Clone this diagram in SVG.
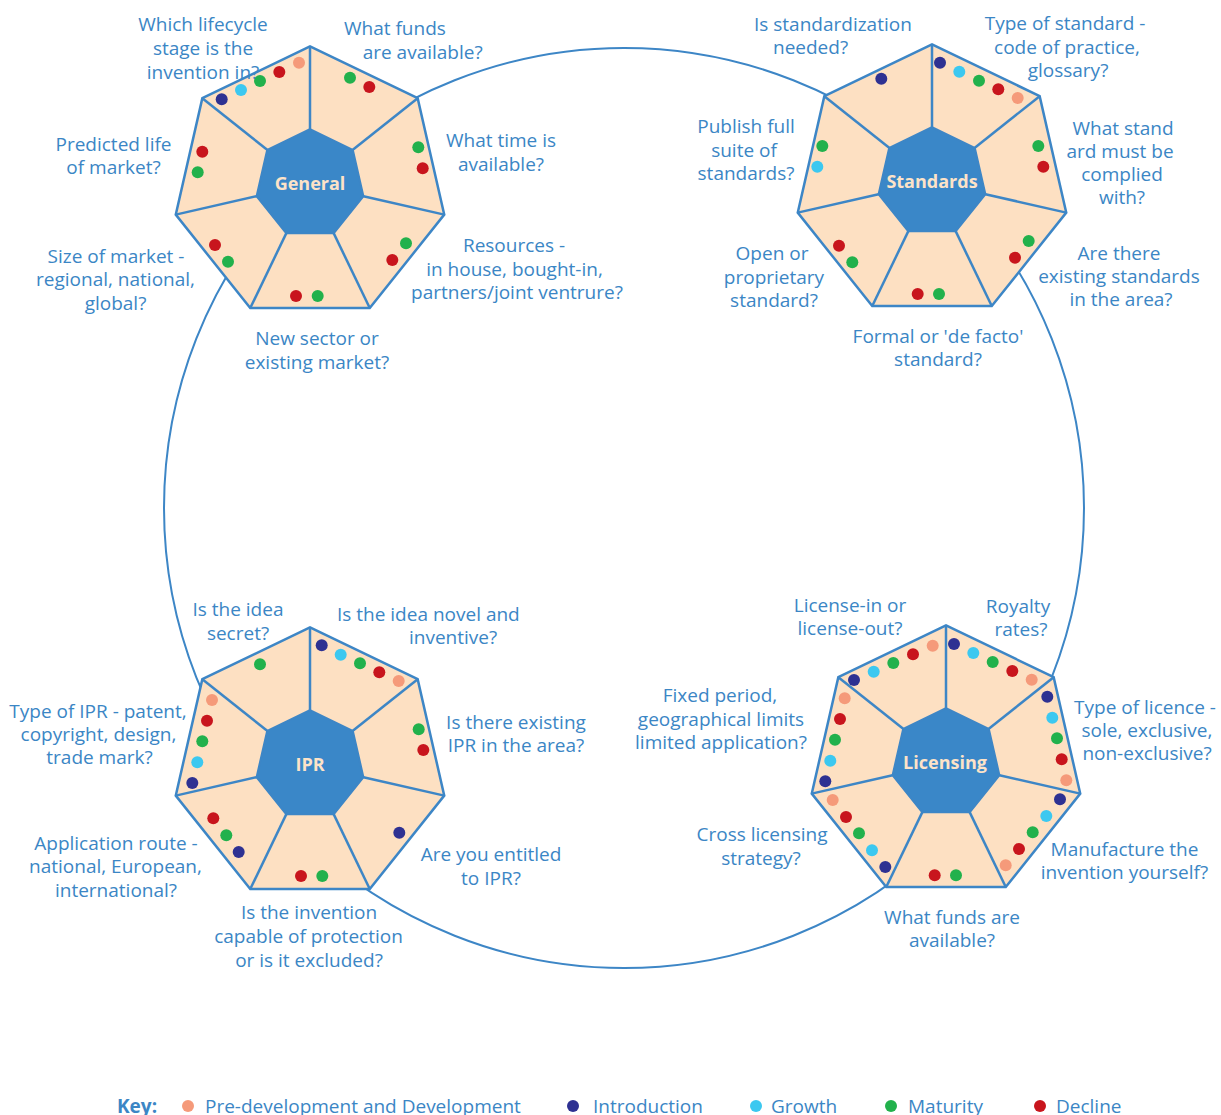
<svg xmlns="http://www.w3.org/2000/svg" xmlns:xlink="http://www.w3.org/1999/xlink" width="1221" height="1115" viewBox="0 0 1221 1115">
<style>
  .lbl { font-family: "Open Sans", "Noto Sans", sans-serif; font-size: 19px; fill: #3b86c5; }
  .mid { text-anchor: middle; }
  .ctr { font-family: "Open Sans", "Noto Sans", sans-serif; font-size: 18px; font-weight: bold; fill: #fde3c8; text-anchor: middle; }
  .outer { fill: #fde0c2; stroke: #3d86c6; stroke-width: 2.5; stroke-linejoin: miter; }
  .inner { fill: #3a87c8; stroke: #3d86c6; stroke-width: 2; }
  .spoke { stroke: #3d86c6; stroke-width: 2.5; }
  .ring { fill: none; stroke: #3d86c6; stroke-width: 2; }
  .pd { fill: #f59a7a; }
  .in { fill: #2e3192; }
  .gr { fill: #3cc8f0; }
  .ma { fill: #22b14c; }
  .de { fill: #c8151d; }
  .key { font-family: "Open Sans", "Noto Sans", sans-serif; font-size: 19px; font-weight: bold; fill: #3b86c5; }
</style>
<defs>
  <g id="hept">
    <polygon class="outer" points="0,-137.7 107.66,-85.85 134.25,30.64 59.75,124.06 -59.75,124.06 -134.25,30.64 -107.66,-85.85"/>
    <line class="spoke" x1="0" y1="-54.8" x2="0" y2="-137.7"/>
    <line class="spoke" x1="42.84" y1="-34.17" x2="107.66" y2="-85.85"/>
    <line class="spoke" x1="53.43" y1="12.19" x2="134.25" y2="30.64"/>
    <line class="spoke" x1="23.78" y1="49.37" x2="59.75" y2="124.06"/>
    <line class="spoke" x1="-23.78" y1="49.37" x2="-59.75" y2="124.06"/>
    <line class="spoke" x1="-53.43" y1="12.19" x2="-134.25" y2="30.64"/>
    <line class="spoke" x1="-42.84" y1="-34.17" x2="-107.66" y2="-85.85"/>
    <polygon class="inner" points="0,-54.8 42.84,-34.17 53.43,12.19 23.78,49.37 -23.78,49.37 -53.43,12.19 -42.84,-34.17"/>
  </g>
</defs>
<rect x="0" y="0" width="1221" height="1115" fill="#ffffff"/>

<g id="connectors">
  <circle class="ring" cx="624" cy="508" r="460"/>
</g>

<g id="general">
  <use xlink:href="#hept" href="#hept" x="310" y="184"/>
  <text class="ctr" x="310" y="190">General</text>
  <circle class="in" cx="221.7" cy="99.3" r="6"/><circle class="gr" cx="241" cy="90" r="6"/><circle class="ma" cx="260" cy="81" r="6"/><circle class="de" cx="279.3" cy="72" r="6"/><circle class="pd" cx="299" cy="62.7" r="6"/>
  <circle class="ma" cx="350" cy="77.7" r="6"/><circle class="de" cx="369.3" cy="87" r="6"/>
  <circle class="ma" cx="418.3" cy="147.3" r="6"/><circle class="de" cx="422.7" cy="168.3" r="6"/>
  <circle class="ma" cx="406" cy="243.3" r="6"/><circle class="de" cx="392.3" cy="260" r="6"/>
  <circle class="de" cx="296" cy="296" r="6"/><circle class="ma" cx="317.7" cy="296" r="6"/>
  <circle class="de" cx="215" cy="245" r="6"/><circle class="ma" cx="228" cy="261.7" r="6"/>
  <circle class="de" cx="202.3" cy="151.7" r="6"/><circle class="ma" cx="197.7" cy="172.3" r="6"/>
  <text class="lbl mid"><tspan x="203" y="31">Which lifecycle</tspan><tspan x="203" y="55">stage is the</tspan><tspan x="203" y="79">invention in?</tspan></text>
  <text class="lbl"><tspan x="344" y="35">What funds</tspan><tspan x="362.7" y="59">are available?</tspan></text>
  <text class="lbl mid"><tspan x="501" y="147">What time is</tspan><tspan x="501" y="171">available?</tspan></text>
  <text class="lbl mid"><tspan x="514" y="252">Resources -</tspan><tspan x="514.5" y="276">in house, bought-in,</tspan><tspan x="517" y="299">partners/joint ventrure?</tspan></text>
  <text class="lbl mid"><tspan x="317" y="345">New sector or</tspan><tspan x="317" y="369">existing market?</tspan></text>
  <text class="lbl mid"><tspan x="116" y="263">Size of market -</tspan><tspan x="115.5" y="286">regional, national,</tspan><tspan x="115.5" y="310">global?</tspan></text>
  <text class="lbl mid"><tspan x="113.5" y="151">Predicted life</tspan><tspan x="113.5" y="174">of market?</tspan></text>
</g>

<g id="standards">
  <use xlink:href="#hept" href="#hept" x="932" y="182"/>
  <text class="ctr" x="932" y="188">Standards</text>
  <circle class="in" cx="881.3" cy="78.7" r="6"/>
  <circle class="in" cx="940" cy="62.7" r="6"/><circle class="gr" cx="959.3" cy="71.7" r="6"/><circle class="ma" cx="979" cy="80.7" r="6"/><circle class="de" cx="998.3" cy="89.3" r="6"/><circle class="pd" cx="1017.7" cy="98" r="6"/>
  <circle class="ma" cx="1038.3" cy="146" r="6"/><circle class="de" cx="1043.3" cy="166.7" r="6"/>
  <circle class="ma" cx="1028.7" cy="241" r="6"/><circle class="de" cx="1015" cy="257.7" r="6"/>
  <circle class="de" cx="917.7" cy="294" r="6"/><circle class="ma" cx="939" cy="294" r="6"/>
  <circle class="de" cx="839" cy="245.7" r="6"/><circle class="ma" cx="852.3" cy="262.3" r="6"/>
  <circle class="ma" cx="822.3" cy="146" r="6"/><circle class="gr" cx="817.3" cy="166.7" r="6"/>
  <text class="lbl"><tspan x="754" y="31">Is standardization</tspan><tspan x="773" y="54">needed?</tspan></text>
  <text class="lbl mid"><tspan x="1065" y="30">Type of standard -</tspan><tspan x="1067" y="54">code of practice,</tspan><tspan x="1068" y="77">glossary?</tspan></text>
  <text class="lbl mid"><tspan x="1123" y="135">What stand</tspan><tspan x="1120" y="158">ard must be</tspan><tspan x="1122" y="181">complied</tspan><tspan x="1122" y="204">with?</tspan></text>
  <text class="lbl mid"><tspan x="1119" y="260">Are there</tspan><tspan x="1119" y="283">existing standards</tspan><tspan x="1121" y="306">in the area?</tspan></text>
  <text class="lbl mid"><tspan x="938" y="343">Formal or 'de facto'</tspan><tspan x="938" y="366">standard?</tspan></text>
  <text class="lbl mid"><tspan x="772" y="260">Open or</tspan><tspan x="774" y="284">proprietary</tspan><tspan x="774" y="307">standard?</tspan></text>
  <text class="lbl mid"><tspan x="746" y="133">Publish full</tspan><tspan x="744" y="157">suite of</tspan><tspan x="746" y="180">standards?</tspan></text>
</g>

<g id="ipr">
  <use xlink:href="#hept" href="#hept" x="310" y="765"/>
  <text class="ctr" x="310" y="771">IPR</text>
  <circle class="ma" cx="260" cy="664.3" r="6"/>
  <circle class="in" cx="321.7" cy="645.3" r="6"/><circle class="gr" cx="340.7" cy="654.7" r="6"/><circle class="ma" cx="360" cy="663.3" r="6"/><circle class="de" cx="379.3" cy="672.3" r="6"/><circle class="pd" cx="398.7" cy="681" r="6"/>
  <circle class="ma" cx="418.7" cy="729.3" r="6"/><circle class="de" cx="423.3" cy="750" r="6"/>
  <circle class="in" cx="399.3" cy="832.7" r="6"/>
  <circle class="de" cx="301" cy="876" r="6"/><circle class="ma" cx="322.3" cy="876" r="6"/>
  <circle class="de" cx="213.3" cy="818.3" r="6"/><circle class="ma" cx="226.3" cy="835.3" r="6"/><circle class="in" cx="238.7" cy="852" r="6"/>
  <circle class="pd" cx="212" cy="700" r="6"/><circle class="de" cx="207" cy="720.7" r="6"/><circle class="ma" cx="202.3" cy="741.3" r="6"/><circle class="gr" cx="197.3" cy="762.3" r="6"/><circle class="in" cx="192.3" cy="783" r="6"/>
  <text class="lbl mid"><tspan x="238" y="616">Is the idea</tspan><tspan x="238" y="640">secret?</tspan></text>
  <text class="lbl"><tspan x="337" y="621">Is the idea novel and</tspan><tspan x="409" y="644">inventive?</tspan></text>
  <text class="lbl mid"><tspan x="516" y="729">Is there existing</tspan><tspan x="516" y="752">IPR in the area?</tspan></text>
  <text class="lbl mid"><tspan x="491" y="861">Are you entitled</tspan><tspan x="491" y="885">to IPR?</tspan></text>
  <text class="lbl mid"><tspan x="309" y="919">Is the invention</tspan><tspan x="308.5" y="943">capable of protection</tspan><tspan x="309" y="967">or is it excluded?</tspan></text>
  <text class="lbl mid"><tspan x="116" y="850">Application route -</tspan><tspan x="115.5" y="873">national, European,</tspan><tspan x="116" y="897">international?</tspan></text>
  <text class="lbl mid"><tspan x="98" y="718">Type of IPR - patent,</tspan><tspan x="98.5" y="741">copyright, design,</tspan><tspan x="99.5" y="764">trade mark?</tspan></text>
</g>

<g id="licensing">
  <use xlink:href="#hept" href="#hept" x="946" y="763"/>
  <text class="ctr" x="945" y="769">Licensing</text>
  <circle class="in" cx="854" cy="680" r="6"/><circle class="gr" cx="873.7" cy="671.7" r="6"/><circle class="ma" cx="893.3" cy="663" r="6"/><circle class="de" cx="913" cy="654.3" r="6"/><circle class="pd" cx="932.7" cy="645.7" r="6"/>
  <circle class="in" cx="954" cy="644" r="6"/><circle class="gr" cx="973.3" cy="653" r="6"/><circle class="ma" cx="992.7" cy="662" r="6"/><circle class="de" cx="1012.3" cy="671" r="6"/><circle class="pd" cx="1031.7" cy="679.7" r="6"/>
  <circle class="in" cx="1047.3" cy="696.7" r="6"/><circle class="gr" cx="1052.3" cy="717.7" r="6"/><circle class="ma" cx="1057" cy="738.3" r="6"/><circle class="de" cx="1061.7" cy="759.3" r="6"/><circle class="pd" cx="1066.3" cy="780.3" r="6"/>
  <circle class="in" cx="1060" cy="799.3" r="6"/><circle class="gr" cx="1046.3" cy="816" r="6"/><circle class="ma" cx="1032.7" cy="832.3" r="6"/><circle class="de" cx="1019" cy="849" r="6"/><circle class="pd" cx="1005.7" cy="865.3" r="6"/>
  <circle class="de" cx="934.7" cy="875.3" r="6"/><circle class="ma" cx="956" cy="875.3" r="6"/>
  <circle class="pd" cx="832.7" cy="800" r="6"/><circle class="de" cx="846" cy="817" r="6"/><circle class="ma" cx="859" cy="833.3" r="6"/><circle class="gr" cx="872" cy="850.3" r="6"/><circle class="in" cx="885.3" cy="867" r="6"/>
  <circle class="pd" cx="844.7" cy="698.3" r="6"/><circle class="de" cx="840" cy="719" r="6"/><circle class="ma" cx="835" cy="739.7" r="6"/><circle class="gr" cx="830.3" cy="760.7" r="6"/><circle class="in" cx="825.3" cy="781.3" r="6"/>
  <text class="lbl mid"><tspan x="850" y="612">License-in or</tspan><tspan x="850" y="635">license-out?</tspan></text>
  <text class="lbl mid"><tspan x="1018" y="613">Royalty</tspan><tspan x="1021" y="636">rates?</tspan></text>
  <text class="lbl mid"><tspan x="1145" y="714">Type of licence -</tspan><tspan x="1147" y="737">sole, exclusive,</tspan><tspan x="1147" y="760">non-exclusive?</tspan></text>
  <text class="lbl mid"><tspan x="1124.5" y="856">Manufacture the</tspan><tspan x="1124.5" y="879">invention yourself?</tspan></text>
  <text class="lbl mid"><tspan x="952" y="924">What funds are</tspan><tspan x="952" y="947">available?</tspan></text>
  <text class="lbl mid"><tspan x="762" y="841">Cross licensing</tspan><tspan x="761" y="865">strategy?</tspan></text>
  <text class="lbl mid"><tspan x="720" y="702">Fixed period,</tspan><tspan x="721" y="726">geographical limits</tspan><tspan x="721" y="749">limited application?</tspan></text>
</g>

<g id="key">
  <text class="key" x="117" y="1113">Key:</text>
  <circle class="pd" cx="188" cy="1106" r="6"/><text class="lbl" x="205" y="1113">Pre-development and Development</text>
  <circle class="in" cx="573" cy="1106" r="6"/><text class="lbl" x="593" y="1113">Introduction</text>
  <circle class="gr" cx="756" cy="1106" r="6"/><text class="lbl" x="771" y="1113">Growth</text>
  <circle class="ma" cx="891" cy="1106" r="6"/><text class="lbl" x="908" y="1113">Maturity</text>
  <circle class="de" cx="1040" cy="1106" r="6"/><text class="lbl" x="1056" y="1113">Decline</text>
</g>
</svg>
